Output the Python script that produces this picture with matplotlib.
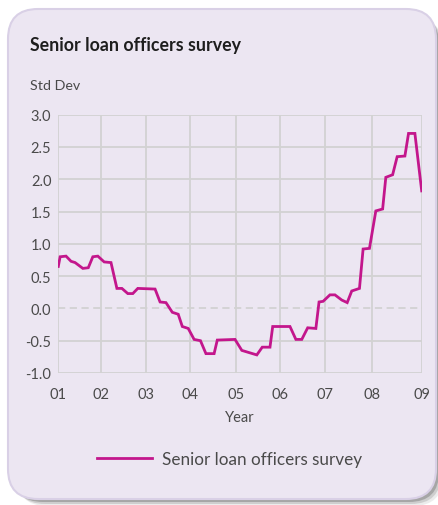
import matplotlib
matplotlib.use("Agg")
import matplotlib.pyplot as plt
from matplotlib.patches import FancyBboxPatch
import numpy as np

plt.rcParams['font.family'] = ['Lato', 'DejaVu Sans']

# datos (x en años, y en desviaciones tipicas)
fechas = [2001.00, 2001.04, 2001.17, 2001.28, 2001.37, 2001.54, 2001.66, 2001.76,
          2001.87, 2002.01, 2002.16, 2002.29, 2002.40, 2002.53, 2002.64, 2002.75,
          2003.13, 2003.24, 2003.37, 2003.51, 2003.64, 2003.73, 2003.86, 2003.99,
          2004.13, 2004.25, 2004.43, 2004.50, 2004.89, 2005.04, 2005.37, 2005.49,
          2005.66, 2005.72, 2006.10, 2006.23, 2006.36, 2006.49, 2006.67, 2006.74,
          2006.83, 2006.98, 2007.09, 2007.24, 2007.36, 2007.46, 2007.63, 2007.71,
          2007.85, 2007.99, 2008.14, 2008.21, 2008.36, 2008.46, 2008.63, 2008.71,
          2008.85, 2009.00]
encuesta = [0.65, 0.80, 0.81, 0.73, 0.71, 0.62, 0.63, 0.80,
            0.81, 0.72, 0.71, 0.31, 0.31, 0.23, 0.23, 0.31,
            0.30, 0.10, 0.09, -0.06, -0.09, -0.28, -0.31, -0.48,
            -0.50, -0.70, -0.70, -0.49, -0.48, -0.65, -0.72, -0.60,
            -0.60, -0.28, -0.28, -0.48, -0.48, -0.30, -0.31, 0.10,
            0.11, 0.21, 0.21, 0.13, 0.09, 0.27, 0.31, 0.92,
            0.93, 1.51, 1.54, 2.03, 2.07, 2.35, 2.36, 2.71,
            2.71, 1.82]

# posiciones de las marcas del eje x (no estan equiespaciadas en el original)
pos_anios = [2001.00, 2001.93, 2002.92, 2003.90, 2004.91, 2005.89, 2006.88, 2007.91, 2009.00]
etiquetas_anios = ['01', '02', '03', '04', '05', '06', '07', '08', '09']
valores_y = [-1.0, -0.5, 0.0, 0.5, 1.0, 1.5, 2.0, 2.5, 3.0]

color_linea = '#c3168c'
color_rejilla = '#d2d2d2'
fondo = '#ece6f2'

fig = plt.figure(figsize=(4.38, 5.06), dpi=100)
fig.patch.set_facecolor('white')

# tarjeta de fondo con esquinas redondeadas (coordenadas en pixeles)
bg = fig.add_axes([0, 0, 1, 1])
bg.set_xlim(0, 438)
bg.set_ylim(506, 0)
bg.axis('off')
for d, a in [(7, 0.10), (5, 0.18), (3, 0.30)]:
    bg.add_patch(FancyBboxPatch((10 + d, 12 + d), 426, 488, boxstyle="round,pad=0,rounding_size=30",
                                fc='#4a4a4a', ec='none', alpha=a))
bg.add_patch(FancyBboxPatch((8, 10), 428, 490, boxstyle="round,pad=0,rounding_size=30",
                            fc=fondo, ec='#d9d0e6', lw=1.5))

bg.text(30, 45, 'Senior loan officers survey', fontsize=12.8, fontweight='bold',
        color='#1e1e1e', va='center', ha='left')
bg.text(30, 86, 'Std Dev', fontsize=10.3, color='#4a4a4a', va='center', ha='left')
bg.text(240, 418, 'Year', fontsize=10.5, color='#4a4a4a', va='center', ha='center')

ax = fig.add_axes([58.3 / 438, 1 - 374 / 506, (421.7 - 58.3) / 438, (374 - 115.7) / 506])
ax.set_facecolor('none')
for s in ax.spines.values():
    s.set_visible(False)

# rejilla a mano para poder dibujar el cero discontinuo
for xv in pos_anios:
    ax.axvline(xv, color=color_rejilla, lw=1.3, zorder=1)
for yv in valores_y:
    if yv == 0:
        ax.axhline(yv, color=color_rejilla, lw=1.3, ls=(0, (4, 2.5)), zorder=1)
    else:
        ax.axhline(yv, color=color_rejilla, lw=1.3, zorder=1)

linea, = ax.plot(fechas, encuesta, color=color_linea, lw=2.0, zorder=3,
                 solid_joinstyle='miter', label='Senior loan officers survey')

ax.set_xlim(2001.0, 2009.0)
ax.set_ylim(-1.0, 3.0)
ax.set_xticks(pos_anios)
ax.set_xticklabels(etiquetas_anios)
ax.set_yticks(valores_y)
ax.set_yticklabels(['%.1f' % v for v in valores_y])
ax.tick_params(length=0, labelsize=10.5, labelcolor='#4a4a4a')
ax.tick_params(axis='y', pad=5)
ax.tick_params(axis='x', pad=10)

fig.legend(handles=[linea], loc='center', bbox_to_anchor=(230 / 438, 1 - 460 / 506),
           frameon=False, fontsize=12.3, handlelength=3.2, handletextpad=0.6,
           labelcolor='#4a4a4a')

fig.savefig('out.png', dpi=100)
